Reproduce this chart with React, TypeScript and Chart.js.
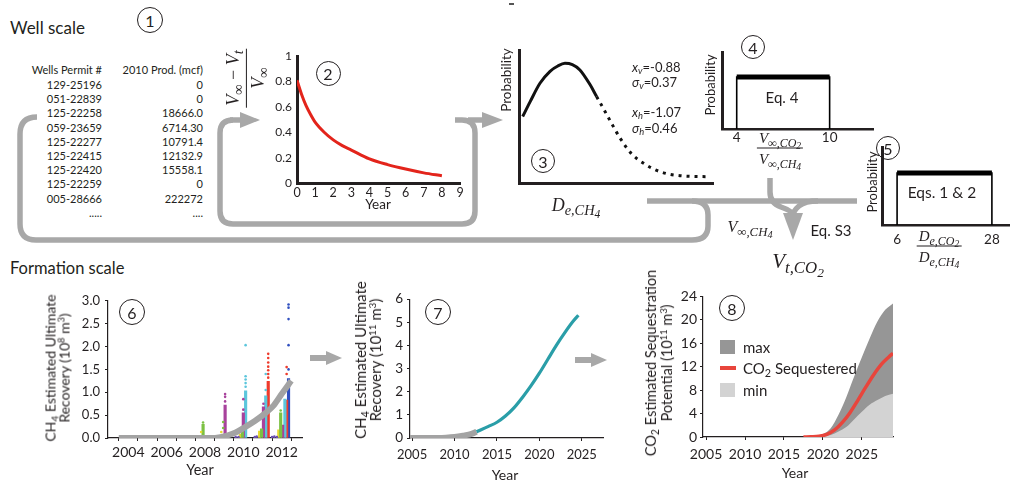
import React, { useEffect, useRef } from 'react';
import { Chart, registerables } from 'chart.js';

Chart.register(...registerables);

const SANS = 'Lato, "Open Sans", "DejaVu Sans", sans-serif';
const SERIF = '"Liberation Serif", "DejaVu Serif", serif';
const INK = '#231f20';
const ARROW = '#a8a8a8';

// ---------- Panel 1: well table ----------
const wellPermits = ['129-25196', '051-22839', '125-22258', '059-23659', '125-22277', '125-22415', '125-22420', '125-22259', '005-28666', '.....'];
const wellProd2010 = ['0', '0', '18666.0', '6714.30', '10791.4', '12132.9', '15558.1', '0', '222272', '....'];

// ---------- Panel 2: decline curve ----------
const p2Year = [0, 0.25, 0.5, 0.75, 1, 1.5, 2, 2.5, 3, 4, 5, 6, 7, 8];
const p2Decline = [0.81, 0.7, 0.61, 0.54, 0.48, 0.4, 0.34, 0.295, 0.26, 0.19, 0.145, 0.11, 0.08, 0.057];
const p2XTicks = [0, 1, 2, 3, 4, 5, 6, 7, 8, 9];
const p2YTicks = [0, 0.2, 0.4, 0.6, 0.8, 1];

// ---------- Panel 3: diffusivity distribution ----------
const p3De = [0.19, 0.57, 1.08, 1.6, 2.0, 2.37, 2.75, 3.14, 3.66, 4.0, 4.35, 4.69, 5.2, 5.8, 6.4, 7.27, 8.3, 9.85];
const p3Prob = [0.5, 0.61, 0.75, 0.84, 0.88, 0.9, 0.89, 0.85, 0.74, 0.65, 0.56, 0.47, 0.34, 0.22, 0.15, 0.085, 0.055, 0.047];
const p3SolidEnd = 4.0;

// ---------- Panel 4: uniform V ratio ----------
const p4Ratio = [4, 4, 10, 10];
const p4Prob = [0, 1, 1, 0];
const p4TopRatio = [4, 10];
const p4TopProb = [1, 1];
const p4XTicks = [4, 10];

// ---------- Panel 5: uniform D ratio ----------
const p5Ratio = [6, 6, 28, 28];
const p5Prob = [0, 1, 1, 0];
const p5TopRatio = [6, 28];
const p5TopProb = [1, 1];
const p5XTicks = [6, 28];

// ---------- Panel 6: well EUR ----------
const p6TrendYear = [2003.5, 2008.3, 2008.8, 2009.2, 2009.6, 2010.1, 2010.6, 2011.2, 2011.6, 2012.0, 2012.5];
const p6TrendEUR = [0, 0, 0.02, 0.06, 0.12, 0.24, 0.37, 0.56, 0.72, 0.96, 1.25];
const p6GreenColX = [2007.9, 2009.95, 2010.95, 2011.95];
const p6GreenColTop = [0.3, 0.2, 0.2, 0.55];
const p6PurpleColX = [2009.05, 2010.0, 2011.05, 2012.05];
const p6PurpleColTop = [0.72, 0.55, 0.68, 0.28];
const p6CyanColX = [2010.12, 2011.17, 2012.17];
const p6CyanColTop = [1.03, 0.92, 0.85];
const p6RedColX = [2011.3, 2012.26];
const p6RedColTop = [1.24, 0.83];
const p6BlueColX = [2012.36];
const p6BlueColTop = [1.3];
const p6YellowColX = [2008.85, 2009.85, 2010.85, 2011.85];
const p6YellowColTop = [0.05, 0.08, 0.15, 0.18];
const p6GreenDotX = [2007.9, 2008.95, 2008.95, 2011.95];
const p6GreenDotY = [0.34, 0.35, 0.22, 0.6];
const p6PurpleDotX = [2009.05, 2009.05, 2009.05, 2010.0, 2010.0, 2011.05];
const p6PurpleDotY = [0.8, 0.9, 0.96, 0.62, 0.85, 0.75];
const p6CyanDotX = [2010.12, 2010.12, 2010.12, 2010.12, 2010.12, 2011.17, 2011.17];
const p6CyanDotY = [1.12, 1.2, 1.28, 1.35, 2.03, 1.05, 1.4];
const p6RedDotX = [2011.3, 2011.3, 2011.3, 2011.3, 2011.3, 2011.3, 2011.3, 2012.26, 2012.26, 2012.26];
const p6RedDotY = [1.32, 1.4, 1.48, 1.56, 1.65, 1.75, 1.84, 1.1, 1.4, 1.55];
const p6BlueDotX = [2012.36, 2012.36, 2012.36, 2012.36, 2012.36];
const p6BlueDotY = [1.5, 2.03, 2.6, 2.85, 2.92];
const p6YellowDotX = [2007.8, 2008.85];
const p6YellowDotY = [0.13, 0.13];
const p6LowDotX = [2009.6, 2009.75, 2010.6, 2010.7, 2011.5, 2011.62, 2011.75];
const p6LowDotY = [0.02, 0.02, 0.02, 0.03, 0.02, 0.03, 0.02];
const p6XTicks = [2004, 2005, 2006, 2007, 2008, 2009, 2010, 2011, 2012];
const p6YTicks = [0, 0.5, 1, 1.5, 2, 2.5, 3];

// ---------- Panel 7: formation CH4 EUR ----------
const p7HistYear = [2004.75, 2008, 2009, 2010, 2011, 2012, 2012.6];
const p7HistEUR = [0, 0, 0.01, 0.04, 0.1, 0.18, 0.27];
const p7ProjYear = [2012.6, 2014, 2015, 2016, 2017, 2018, 2019, 2020, 2021, 2022, 2023, 2024, 2024.6];
const p7ProjEUR = [0.27, 0.5, 0.68, 0.95, 1.3, 1.75, 2.25, 2.8, 3.4, 4.0, 4.55, 5.05, 5.3];
const p7XTicks = [2005, 2010, 2015, 2020, 2025];
const p7YTicks = [0, 1, 2, 3, 4, 5, 6];

// ---------- Panel 8: CO2 sequestration ----------
const p8Year = [2015, 2017, 2019, 2020, 2021, 2022, 2023, 2024, 2025, 2026, 2027, 2028, 2029];
const p8Max = [0, 0, 0.1, 0.5, 1.5, 3.8, 6.8, 10.3, 13.6, 16.8, 19.7, 21.7, 22.8];
const p8Min = [0, 0, 0, 0.05, 0.35, 0.95, 1.7, 3.0, 4.3, 5.5, 6.3, 7.0, 7.4];
const p8SeqYear = [2017.5, 2018.5, 2019.5, 2020.5, 2021.5, 2022.5, 2023.5, 2024.5, 2025.5, 2026.5, 2027.5, 2028.5, 2029];
const p8Seq = [0, 0.03, 0.12, 0.45, 1.2, 2.5, 4.2, 6.3, 8.5, 10.6, 12.4, 13.7, 14.3];
const p8XTicks = [2005, 2010, 2015, 2020, 2025];
const p8YTicks = [0, 4, 8, 12, 16, 20, 24];
const p8MaxColor = '#969696';
const p8MinColor = '#d3d3d3';
const p8SeqColor = '#e8453c';

// ---------- helpers ----------
function zip(xs: number[], ys: number[]) {
  return xs.map((x, i) => ({ x, y: ys[i] }));
}

function linScale(axis: string, o: any) {
  return {
    type: 'linear',
    position: axis === 'x' ? 'bottom' : 'left',
    min: o.min,
    max: o.max,
    afterFit: (s: any) => {
      if (axis === 'x') s.height = o.size;
      else s.width = o.size;
    },
    afterBuildTicks: (s: any) => {
      s.ticks = (o.ticks || []).map((v: number) => ({ value: v }));
    },
    grid: {
      display: true,
      drawOnChartArea: false,
      drawTicks: !!o.tickLen,
      tickLength: o.tickLen || 0,
      color: INK,
      lineWidth: 1,
    },
    border: { display: true, color: INK, width: o.bw ?? 1 },
    ticks: {
      display: !!o.fmt,
      padding: o.pad ?? 3,
      color: INK,
      font: { family: SANS, size: o.fs ?? 12 },
      autoSkip: false,
      maxRotation: 0,
      minRotation: 0,
      callback: (v: any) => (o.fmt ? o.fmt(v) : ''),
    },
  };
}

function baseOptions(g: any, scales: any) {
  return {
    responsive: false,
    maintainAspectRatio: false,
    animation: false,
    devicePixelRatio: 1,
    events: [],
    layout: { autoPadding: false, padding: { top: g.padTop, right: g.padRight, left: 0, bottom: 0 } },
    plugins: { legend: { display: false }, tooltip: { enabled: false }, title: { display: false } },
    scales,
  };
}

function ChartBox({ geo, make }: { geo: any; make: () => any }) {
  const ref = useRef<HTMLCanvasElement>(null);
  useEffect(() => {
    const c = new Chart(ref.current as HTMLCanvasElement, make());
    return () => c.destroy();
  }, []);
  return (
    <canvas
      ref={ref}
      width={geo.width}
      height={geo.height}
      style={{ position: 'absolute', left: geo.left, top: geo.top, width: geo.width, height: geo.height }}
    />
  );
}

function Txt({ x, y, children, size = 12, anchor = 'c', rot = false, family = SANS, italic = false, style = {} }: any) {
  const tx = anchor === 'l' ? '0' : anchor === 'r' ? '-100%' : '-50%';
  return (
    <div
      style={{
        position: 'absolute',
        left: x,
        top: y,
        transform: `translate(${tx}, -50%)${rot ? ' rotate(-90deg)' : ''}`,
        fontFamily: family,
        fontSize: size,
        fontStyle: italic ? 'italic' : 'normal',
        color: INK,
        whiteSpace: 'nowrap',
        lineHeight: 1,
        ...style,
      }}
    >
      {children}
    </div>
  );
}

function Num({ x, y, n, r = 12.5 }: any) {
  return (
    <div
      style={{
        position: 'absolute',
        left: x - r,
        top: y - r,
        width: 2 * r,
        height: 2 * r,
        boxSizing: 'border-box',
        border: `1.2px solid ${INK}`,
        borderRadius: '50%',
        display: 'flex',
        alignItems: 'center',
        justifyContent: 'center',
        fontFamily: SANS,
        fontSize: 16,
        color: INK,
      }}
    >
      {n}
    </div>
  );
}

function Sub({ children }: any) {
  return <sub style={{ fontSize: '0.72em', verticalAlign: '-0.3em', lineHeight: 0 }}>{children}</sub>;
}
function MSub({ children }: any) {
  return <sub style={{ fontSize: '0.8em', verticalAlign: '-0.3em', lineHeight: 0 }}>{children}</sub>;
}
function MSub2({ children }: any) {
  return <sub style={{ fontSize: '0.8em', verticalAlign: '-0.25em', lineHeight: 0 }}>{children}</sub>;
}
function Sup({ children }: any) {
  return <sup style={{ fontSize: '0.65em', verticalAlign: '0.55em', lineHeight: 0 }}>{children}</sup>;
}

function Frac({ num, den, size }: any) {
  return (
    <div
      style={{
        display: 'inline-flex',
        flexDirection: 'column',
        alignItems: 'center',
        fontFamily: SERIF,
        fontStyle: 'italic',
        fontSize: size,
        lineHeight: 1.2,
        color: INK,
      }}
    >
      <div style={{ padding: '0 2px 1px' }}>{num}</div>
      <div style={{ borderTop: `1px solid ${INK}`, alignSelf: 'stretch', textAlign: 'center', padding: '1px 2px 0' }}>{den}</div>
    </div>
  );
}

// ---------- chart geometry ----------
const geo2 = { left: 250, top: 44, width: 220, height: 166, padTop: 8, padRight: 10, yW: 47, xH: 27 };
const geo3 = { left: 512, top: 44, width: 208, height: 146, padTop: 6, padRight: 7, yW: 7, xH: 7 };
const geo4 = { left: 715, top: 46, width: 165, height: 104, padTop: 6, padRight: 7, yW: 7, xH: 21 };
const geo5 = { left: 875, top: 141, width: 135, height: 112, padTop: 6, padRight: 0, yW: 7, xH: 28 };
const geo6 = { left: 40, top: 288, width: 275, height: 180, padTop: 10, padRight: 13, yW: 68, xH: 30 };
const geo7 = { left: 375, top: 287, width: 240, height: 180, padTop: 10, padRight: 12, yW: 35, xH: 29 };
const geo8 = { left: 675, top: 285, width: 235, height: 182, padTop: 10, padRight: 17, yW: 28, xH: 30 };

const plainLine = (data: any, color: string, width: number, extra: any = {}) => ({
  data,
  borderColor: color,
  borderWidth: width,
  pointRadius: 0,
  fill: false,
  ...extra,
});

const makeP2 = () => ({
  type: 'line',
  data: { datasets: [plainLine(zip(p2Year, p2Decline), '#e3241b', 3, { cubicInterpolationMode: 'monotone' })] },
  options: baseOptions(geo2, {
    x: linScale('x', { min: 0, max: 9, size: geo2.xH, ticks: p2XTicks, fmt: (v: number) => String(v), bw: 3, pad: 2, fs: 12.5 }),
    y: linScale('y', { min: 0, max: 1, size: geo2.yW, ticks: p2YTicks, fmt: (v: number) => String(v), bw: 3, pad: 5, fs: 12 }),
  }),
});

const makeP3 = () => ({
  type: 'line',
  data: {
    datasets: [
      plainLine(zip(p3De, p3Prob), '#111', 3, {
        cubicInterpolationMode: 'monotone',
        segment: { borderDash: (ctx: any) => (ctx.p0.parsed.x >= p3SolidEnd ? [3, 5] : undefined) },
      }),
    ],
  },
  options: baseOptions(geo3, {
    x: linScale('x', { min: 0, max: 10, size: geo3.xH, ticks: [], bw: 3 }),
    y: linScale('y', { min: 0, max: 1, size: geo3.yW, ticks: [], bw: 3 }),
  }),
});

const makeBox = (geo: any, xs: number[], ys: number[], tx: number[], ty: number[], ticks: number[], xmin: number, xmax: number, ymax: number, pad: number) => () => ({
  type: 'line',
  data: {
    datasets: [plainLine(zip(tx, ty), '#000', 5), plainLine(zip(xs, ys), '#000', 1.6)],
  },
  options: baseOptions(geo, {
    x: linScale('x', { min: xmin, max: xmax, size: geo.xH, ticks, fmt: (v: number) => String(v), bw: 2.5, pad, fs: 13.5 }),
    y: linScale('y', { min: 0, max: ymax, size: geo.yW, ticks: [], bw: 3 }),
  }),
});

const colBars = (xs: number[], tops: number[], color: string) => ({
  type: 'bar',
  data: zip(xs, tops),
  backgroundColor: color,
  borderWidth: 0,
  barThickness: 2.5,
  grouped: false,
  order: 3,
});
const dots = (xs: number[], ys: number[], color: string) => ({
  type: 'scatter',
  data: zip(xs, ys),
  backgroundColor: color,
  borderWidth: 0,
  pointRadius: 1.3,
  order: 2,
});

const C_GREEN = '#7cc143';
const C_PURPLE = '#a8429c';
const C_CYAN = '#5cc6dc';
const C_RED = '#ef3b2c';
const C_BLUE = '#2f4fbf';
const C_YELLOW = '#e6d82e';

const makeP6 = () => ({
  type: 'scatter',
  data: {
    datasets: [
      { type: 'line', ...plainLine(zip(p6TrendYear, p6TrendEUR), '#a3a3a3', 6, { cubicInterpolationMode: 'monotone' }), order: 1 },
      colBars(p6GreenColX, p6GreenColTop, C_GREEN),
      colBars(p6PurpleColX, p6PurpleColTop, C_PURPLE),
      colBars(p6CyanColX, p6CyanColTop, C_CYAN),
      colBars(p6RedColX, p6RedColTop, C_RED),
      colBars(p6BlueColX, p6BlueColTop, C_BLUE),
      colBars(p6YellowColX, p6YellowColTop, C_YELLOW),
      dots(p6GreenDotX, p6GreenDotY, C_GREEN),
      dots(p6PurpleDotX, p6PurpleDotY, C_PURPLE),
      dots(p6CyanDotX, p6CyanDotY, C_CYAN),
      dots(p6RedDotX, p6RedDotY, C_RED),
      dots(p6BlueDotX, p6BlueDotY, C_BLUE),
      dots(p6YellowDotX, p6YellowDotY, C_YELLOW),
      dots(p6LowDotX, p6LowDotY, '#6a4fb0'),
    ],
  },
  options: baseOptions(geo6, {
    x: linScale('x', { min: 2003.5, max: 2012.5, size: geo6.xH, ticks: p6XTicks, fmt: (v: number) => (v % 2 === 0 ? String(v) : ''), bw: 1.2, tickLen: 3, pad: 3, fs: 14 }),
    y: linScale('y', { min: 0, max: 3, size: geo6.yW, ticks: p6YTicks, fmt: (v: number) => v.toFixed(1), bw: 1.2, tickLen: 3, pad: 5, fs: 13 }),
  }),
});

const makeP7 = () => ({
  type: 'line',
  data: {
    datasets: [
      { ...plainLine(zip(p7HistYear, p7HistEUR), '#a3a3a3', 6, { cubicInterpolationMode: 'monotone' }), order: 2 },
      { ...plainLine(zip(p7ProjYear, p7ProjEUR), '#2a9ea8', 3.2, { cubicInterpolationMode: 'monotone' }), order: 1 },
    ],
  },
  options: baseOptions(geo7, {
    x: linScale('x', { min: 2004.75, max: 2027.5, size: geo7.xH, ticks: p7XTicks, fmt: (v: number) => String(v), bw: 1.2, tickLen: 3, pad: 6, fs: 13 }),
    y: linScale('y', { min: 0, max: 6, size: geo7.yW, ticks: p7YTicks, fmt: (v: number) => String(v), bw: 1.2, tickLen: 3, pad: 4, fs: 13.5 }),
  }),
});

const makeP8 = () => ({
  type: 'line',
  data: {
    datasets: [
      { ...plainLine(zip(p8Year, p8Max), p8MaxColor, 0, { fill: 'origin', backgroundColor: p8MaxColor, cubicInterpolationMode: 'monotone' }), order: 3, label: 'max' },
      { ...plainLine(zip(p8Year, p8Min), p8MinColor, 0, { fill: 'origin', backgroundColor: p8MinColor, cubicInterpolationMode: 'monotone' }), order: 2, label: 'min' },
      { ...plainLine(zip(p8SeqYear, p8Seq), p8SeqColor, 3.5, { cubicInterpolationMode: 'monotone' }), order: 1, label: 'CO2 Sequestered' },
    ],
  },
  options: baseOptions(geo8, {
    x: linScale('x', { min: 2004.6, max: 2029, size: geo8.xH, ticks: p8XTicks, fmt: (v: number) => String(v), bw: 1.2, tickLen: 3, pad: 6, fs: 14 }),
    y: linScale('y', { min: 0, max: 24, size: geo8.yW, ticks: p8YTicks, fmt: (v: number) => String(v), bw: 1.2, tickLen: 3, pad: 3, fs: 14 }),
  }),
});

const makeP4 = makeBox(geo4, p4Ratio, p4Prob, p4TopRatio, p4TopProb, p4XTicks, 3.05, 12.8, 1.48, 1);
const makeP5 = makeBox(geo5, p5Ratio, p5Prob, p5TopRatio, p5TopProb, p5XTicks, 2.5, 32.2, 1.5, 7);

const Vinf = () => (
  <>
    V<MSub>∞</MSub>
  </>
);

export default function App() {
  const rowY = (i: number) => 84 + i * 14.2;
  return (
    <div style={{ position: 'fixed', left: 0, top: 0, width: 1010, height: 483, background: '#fff', overflow: 'hidden' }}>
      <svg width={1010} height={483} style={{ position: 'absolute', left: 0, top: 0 }}>
        <g fill="none" stroke={ARROW} strokeWidth={5.5}>
          <path d="M37 117 Q20 117 20 134 L20 224 Q20 240 36 240 L692 240 Q708 240 708 226 L708 215 Q708 201 692 201" />
          <path d="M647 201 L857 201" />
          <path d="M770 178 L770 192 Q770 203 781 207 Q793 211 793 216" />
          <path d="M818 201 Q805 201 799 206 Q793 211 793 216" />
          <path d="M233 120 Q220 120 220 133 L220 211 Q220 224 233 224 L462 224 Q475 224 475 211 L475 133 Q475 120 462 120 L455 120" />
          <path d="M230 120 L242 120" />
          <path d="M468 120 L484 120" />
          <path d="M310 358 L328 358" strokeWidth={6} />
          <path d="M575 360 L593 360" strokeWidth={6} />
        </g>
        <g fill={ARROW}>
          <polygon points="240,112 260,120 240,128" />
          <polygon points="482,112 503,120 482,128" />
          <polygon points="783,213 803,213 793,240" />
          <polygon points="326,351 342,358 326,365" />
          <polygon points="591,353 607,360 591,367" />
        </g>
      </svg>

      <ChartBox geo={geo2} make={makeP2} />
      <ChartBox geo={geo3} make={makeP3} />
      <ChartBox geo={geo4} make={makeP4} />
      <ChartBox geo={geo5} make={makeP5} />
      <ChartBox geo={geo6} make={makeP6} />
      <ChartBox geo={geo7} make={makeP7} />
      <ChartBox geo={geo8} make={makeP8} />

      <div style={{ position: 'absolute', left: 509, top: 3, width: 5, height: 1.5, background: '#555' }} />

      {/* Section titles */}
      <Txt x={10} y={27} size={17} anchor="l">Well scale</Txt>
      <Txt x={10} y={268} size={16.5} anchor="l">Formation scale</Txt>

      {/* Panel 1 table */}
      <Txt x={102} y={69} size={11} anchor="r">Wells Permit #</Txt>
      <Txt x={203} y={69} size={11} anchor="r">2010 Prod. (mcf)</Txt>
      {wellPermits.map((p, i) => (
        <Txt key={'p' + i} x={102} y={rowY(i)} size={11} anchor="r">{p}</Txt>
      ))}
      {wellProd2010.map((p, i) => (
        <Txt key={'v' + i} x={203} y={rowY(i)} size={11} anchor="r">{p}</Txt>
      ))}

      {/* circled numbers */}
      <Num x={150} y={20} n="1" r={13} />
      <Num x={328} y={73} n="2" r={12.5} />
      <Num x={543} y={161} n="3" r={12} />
      <Num x={753} y={47} n="4" r={12} />
      <Num x={888} y={148} n="5" r={12} />
      <Num x={132} y={312} n="6" r={13} />
      <Num x={438} y={312} n="7" r={13} />
      <Num x={732} y={308} n="8" r={13} />

      {/* Panel 2 labels */}
      <Txt x={246} y={78} rot>
        <Frac size={18} num={<><Vinf /> <span style={{ fontStyle: 'normal' }}>−</span> V<MSub>t</MSub></>} den={<Vinf />} />
      </Txt>
      <Txt x={378} y={205} size={13.5}>Year</Txt>

      {/* Panel 3 labels */}
      <Txt x={507} y={80} size={13.5} rot>Probability</Txt>
      <Txt x={576} y={205} size={18} family={SERIF} italic>D<MSub>e,CH<MSub2>4</MSub2></MSub></Txt>
      <Txt x={632} y={67} size={13} anchor="l"><i>x</i><Sub><i>v</i></Sub>=-0.88</Txt>
      <Txt x={632} y={82} size={13} anchor="l"><i>σ</i><Sub><i>v</i></Sub>=0.37</Txt>
      <Txt x={632} y={112} size={13} anchor="l"><i>x</i><Sub><i>h</i></Sub>=-1.07</Txt>
      <Txt x={632} y={128} size={13} anchor="l"><i>σ</i><Sub><i>h</i></Sub>=0.46</Txt>

      {/* Panel 4 labels */}
      <Txt x={710} y={85} size={13} rot>Probability</Txt>
      <Txt x={782} y={97} size={15}>Eq. 4</Txt>
      <Txt x={780} y={148}>
        <Frac size={15} num={<>V<MSub>∞,CO<MSub2>2</MSub2></MSub></>} den={<>V<MSub>∞,CH<MSub2>4</MSub2></MSub></>} />
      </Txt>

      {/* Panel 5 labels */}
      <Txt x={872} y={182} size={13} rot>Probability</Txt>
      <Txt x={942} y={193} size={15.5}>Eqs. 1 &amp; 2</Txt>
      <Txt x={939} y={246}>
        <Frac size={15} num={<>D<MSub>e,CO<MSub2>2</MSub2></MSub></>} den={<>D<MSub>e,CH<MSub2>4</MSub2></MSub></>} />
      </Txt>

      {/* flow labels */}
      <Txt x={750} y={227} size={16} family={SERIF} italic>V<MSub>∞,CH<MSub2>4</MSub2></MSub></Txt>
      <Txt x={831} y={230} size={15}>Eq. S3</Txt>
      <Txt x={798} y={262} size={21} family={SERIF} italic>V<MSub>t,CO<MSub2>2</MSub2></MSub></Txt>

      {/* Panel 6 labels */}
      <Txt x={56.5} y={368} size={14} rot style={{ textAlign: 'center', lineHeight: '13.5px' }}>
        <div>CH<Sub>4</Sub> Estimated Ultimate</div>
        <div>Recovery (10<Sup>8</Sup> m<Sup>3</Sup>)</div>
      </Txt>
      <Txt x={200} y={470} size={14.5}>Year</Txt>

      {/* Panel 7 labels */}
      <Txt x={367.5} y={360} size={15} rot style={{ textAlign: 'center', lineHeight: '15px' }}>
        <div>CH<Sub>4</Sub> Estimated Ultimate</div>
        <div>Recovery (10<Sup>11</Sup> m<Sup>3</Sup>)</div>
      </Txt>
      <Txt x={505} y={475} size={14}>Year</Txt>

      {/* Panel 8 labels */}
      <Txt x={659} y={363} size={14.5} rot style={{ textAlign: 'center', lineHeight: '16px' }}>
        <div>CO<Sub>2</Sub> Estimated Sequestration</div>
        <div>Potential (10<Sup>11</Sup> m<Sup>3</Sup>)</div>
      </Txt>
      <Txt x={795} y={473} size={14}>Year</Txt>

      {/* Panel 8 legend */}
      <div style={{ position: 'absolute', left: 720, top: 340, width: 15, height: 14, background: p8MaxColor }} />
      <Txt x={743} y={347} size={15} anchor="l">max</Txt>
      <div style={{ position: 'absolute', left: 720, top: 366, width: 16, height: 4, background: p8SeqColor }} />
      <Txt x={743} y={368} size={15} anchor="l">CO<Sub>2</Sub> Sequestered</Txt>
      <div style={{ position: 'absolute', left: 720, top: 383, width: 15, height: 14, background: p8MinColor }} />
      <Txt x={743} y={390} size={15} anchor="l">min</Txt>
    </div>
  );
}
